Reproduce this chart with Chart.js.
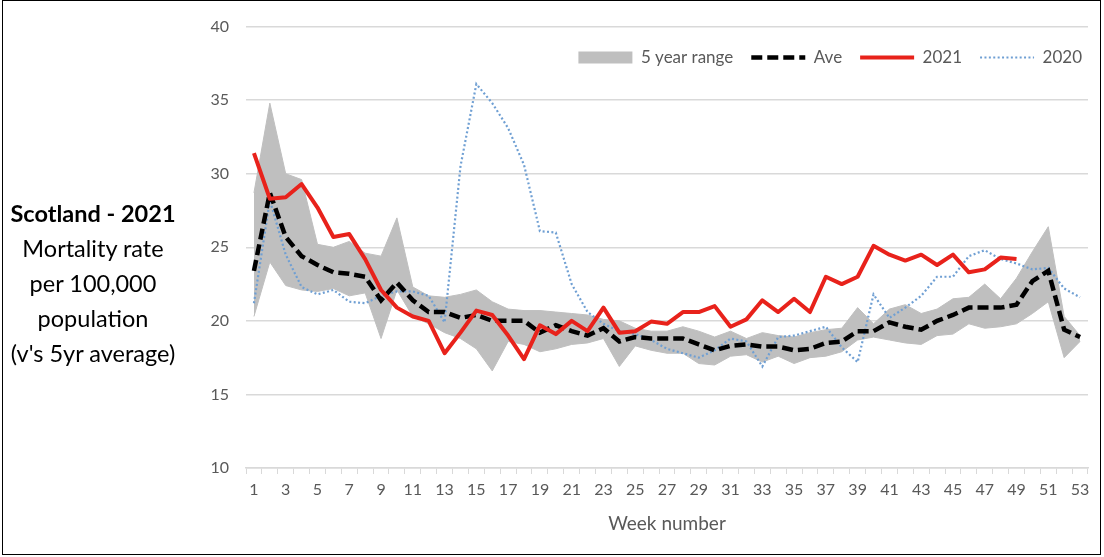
<!DOCTYPE html>
<html><head><meta charset="utf-8">
<script src="https://cdn.jsdelivr.net/npm/chart.js@4.4.1/dist/chart.umd.min.js"></script>
<style>
html,body{margin:0;padding:0;background:#fff;}
#wrap{position:relative;width:1104px;height:557px;overflow:hidden;background:#fff;}
#frame{position:absolute;left:2px;top:0px;width:1099px;height:555px;border:1.5px solid #000;box-sizing:border-box;pointer-events:none;}
#ytitle{position:absolute;left:0;width:186px;top:196px;text-align:center;font-family:Lato,sans-serif;font-size:23.5px;line-height:35px;color:#000;}
</style></head><body>
<div id="wrap">
<canvas id="c" width="1104" height="557"></canvas>
<div id="ytitle"><b>Scotland - 2021</b><br>Mortality rate<br>per 100,000<br>population<br>(v's 5yr average)</div>
<div id="frame"></div>
</div>
<script>
// Categories: week numbers 1..53
const weeks = ['1','2','3','4','5','6','7','8','9','10','11','12','13','14','15','16','17','18','19','20','21','22','23','24','25','26','27','28','29','30','31','32','33','34','35','36','37','38','39','40','41','42','43','44','45','46','47','48','49','50','51','52','53'];

// 5 year range (min / max)
const rangeLow = [20.3,24.0,22.4,22.1,22.0,22.2,21.7,21.9,18.8,22.1,20.3,19.8,19.2,18.8,18.1,16.6,18.6,18.4,17.9,18.1,18.4,18.5,18.8,16.9,18.3,18.0,17.8,17.8,17.1,17.0,17.6,17.7,17.2,17.6,17.1,17.5,17.6,17.9,18.7,18.9,18.7,18.5,18.4,19.0,19.1,19.8,19.5,19.6,19.8,20.5,21.3,17.5,18.6];
const rangeHigh = [28.7,34.8,30.0,29.6,25.2,25.0,25.4,24.6,24.4,27.0,22.3,21.7,21.6,21.8,22.1,21.3,20.8,20.7,20.7,20.6,20.5,20.4,20.1,20.0,19.5,19.3,19.3,19.6,19.3,18.9,19.3,18.8,19.2,19.0,18.9,19.2,19.4,19.5,20.9,19.8,20.8,21.1,20.5,20.8,21.5,21.6,22.5,21.5,22.9,24.7,26.4,20.3,19.0];

// 5 year average
const ave = [23.4,28.7,25.7,24.4,23.8,23.3,23.2,23.0,21.4,22.6,21.4,20.6,20.6,20.2,20.4,20.0,20.0,20.0,19.2,19.7,19.3,19.0,19.5,18.6,18.9,18.8,18.8,18.8,18.4,18.0,18.3,18.4,18.25,18.25,18.0,18.1,18.5,18.6,19.3,19.3,19.9,19.6,19.4,20.0,20.4,20.9,20.9,20.9,21.1,22.7,23.4,19.4,18.9];

// 2021 (weeks 1-49)
const y2021 = [31.4,28.3,28.4,29.3,27.7,25.7,25.9,24.2,22.1,20.9,20.3,20.0,17.8,19.2,20.7,20.4,19.0,17.4,19.7,19.1,20.0,19.3,20.9,19.2,19.3,19.95,19.8,20.6,20.6,21.0,19.6,20.1,21.4,20.6,21.5,20.6,23.0,22.5,23.0,25.1,24.5,24.1,24.5,23.8,24.5,23.3,23.5,24.3,24.2,null,null,null,null];

// 2020
const y2020 = [21.2,28.2,24.5,22.3,21.8,22.1,21.3,21.2,21.7,22.0,22.0,21.7,19.9,30.5,36.1,34.8,33.1,30.6,26.1,26.0,22.5,20.6,19.8,19.3,19.1,18.7,18.1,17.8,17.5,18.0,18.8,18.6,16.9,18.9,19.0,19.3,19.6,18.2,17.2,21.8,20.2,20.9,21.7,23.0,23.0,24.4,24.8,24.2,23.9,23.5,23.6,22.2,21.6];

const yTicks = [10,15,20,25,30,35,40];

const C_RANGE = '#bfbfbf', C_AVE = '#000000', C_2021 = '#e8221b', C_2020 = '#6f9fd3', C_TEXT = '#595959', C_GRID = '#d9d9d9';

Chart.defaults.font.family = 'Lato, sans-serif';

const legendPlace = {
  id: 'legendPlace',
  afterLayout(chart) {
    const lg = chart.legend;
    if (!lg) return;
    lg.top = 31; lg.bottom = 71; lg.left = 500; lg.right = 1100;
  }
};

new Chart(document.getElementById('c'), {
  type: 'line',
  data: {
    labels: weeks,
    datasets: [
      {label: 'range-low', data: rangeLow, borderColor: C_RANGE, borderWidth: 1, pointRadius: 0, fill: false, order: 6},
      {label: '5 year range', data: rangeHigh, borderColor: C_RANGE, borderWidth: 1, backgroundColor: C_RANGE, pointRadius: 0, fill: '-1', order: 5},
      {label: 'Ave', data: ave, borderColor: C_AVE, borderWidth: 4.5, borderDash: [11, 5], pointRadius: 0, fill: false, order: 2},
      {label: '2021', data: y2021, borderColor: C_2021, borderWidth: 4, pointRadius: 0, fill: false, order: 1, borderJoinStyle: 'round'},
      {label: '2020', data: y2020, borderColor: C_2020, borderWidth: 2.2, borderDash: [2, 2.4], pointRadius: 0, fill: false, order: 3}
    ]
  },
  options: {
    responsive: false,
    animation: false,
    events: [],
    layout: {padding: {left: 186, right: 16, top: 25, bottom: 0}},
    plugins: {
      filler: {drawTime: 'beforeDatasetsDraw'},
      tooltip: {enabled: false},
      legend: {
        display: true,
        position: 'top',
        align: 'end',
        maxHeight: 0.01,
        labels: {
          usePointStyle: true,
          pointStyleWidth: 54,
          boxHeight: 12,
          padding: 18,
          color: C_TEXT,
          font: {size: 17},
          generateLabels() {
            return [
              {text: '5 year range', fillStyle: C_RANGE, strokeStyle: C_RANGE, lineWidth: 0, pointStyle: 'rect', fontColor: C_TEXT, hidden: false, datasetIndex: 1},
              {text: 'Ave', fillStyle: C_AVE, strokeStyle: C_AVE, lineWidth: 4.5, lineDash: [11, 5], pointStyle: 'line', fontColor: C_TEXT, hidden: false, datasetIndex: 2},
              {text: '2021', fillStyle: C_2021, strokeStyle: C_2021, lineWidth: 4, pointStyle: 'line', fontColor: C_TEXT, hidden: false, datasetIndex: 3},
              {text: '2020', fillStyle: C_2020, strokeStyle: C_2020, lineWidth: 2.2, lineDash: [2, 2.4], pointStyle: 'line', fontColor: C_TEXT, hidden: false, datasetIndex: 4}
            ];
          }
        }
      }
    },
    scales: {
      x: {
        type: 'category',
        offset: true,
        grid: {display: true, drawOnChartArea: false, drawTicks: true, tickLength: 6, offset: true, color: C_GRID, lineWidth: 1},
        border: {display: true, color: C_GRID, width: 1.5},
        ticks: {
          autoSkip: false, maxRotation: 0, minRotation: 0, padding: 6, color: C_TEXT, font: {size: 16},
          callback: function(v, i) { return i % 2 === 0 ? this.getLabelForValue(v) : ''; }
        },
        title: {display: true, text: 'Week number', color: C_TEXT, font: {size: 19}, padding: {top: 4, bottom: 22}},
        afterFit(s) { s.height = 89; }
      },
      y: {
        min: 10, max: 40,
        afterBuildTicks(s) { s.ticks = yTicks.map(v => ({value: v})); },
        ticks: {padding: 17, color: C_TEXT, font: {size: 16}},
        grid: {color: C_GRID, lineWidth: 1.5, drawTicks: false},
        border: {display: false},
        afterFit(s) { s.width = 60; }
      }
    }
  },
  plugins: [legendPlace]
});
</script>
</body></html>
